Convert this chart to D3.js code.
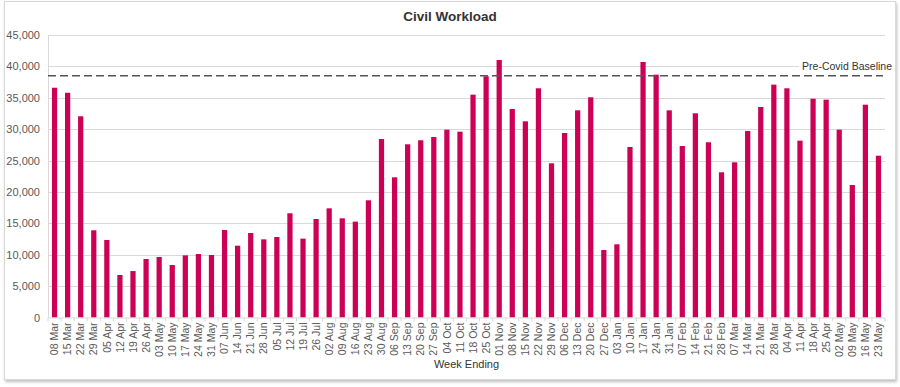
<!DOCTYPE html>
<html>
<head>
<meta charset="utf-8">
<script src="https://cdn.jsdelivr.net/npm/d3@7"></script>
<style>
  body { margin: 0; background: #fff; font-family: "Liberation Sans", Arial, sans-serif; }
  #chart { width: 900px; height: 387px; }
</style>
</head>
<body>
<div id="chart"></div>
<script>
// weekly data
const weeks = ['08 Mar','15 Mar','22 Mar','29 Mar','05 Apr','12 Apr','19 Apr','26 Apr','03 May','10 May',
  '17 May','24 May','31 May','07 Jun','14 Jun','21 Jun','28 Jun','05 Jul','12 Jul','19 Jul',
  '26 Jul','02 Aug','09 Aug','16 Aug','23 Aug','30 Aug','06 Sep','13 Sep','20 Sep','27 Sep',
  '04 Oct','11 Oct','18 Oct','25 Oct','01 Nov','08 Nov','15 Nov','22 Nov','29 Nov','06 Dec',
  '13 Dec','20 Dec','27 Dec','03 Jan','10 Jan','17 Jan','24 Jan','31 Jan','07 Feb','14 Feb',
  '21 Feb','28 Feb','07 Mar','14 Mar','21 Mar','28 Mar','04 Apr','11 Apr','18 Apr','25 Apr',
  '02 May','09 May','16 May','23 May'];

const workload = [36600,35800,32050,13890,12350,6770,7400,9320,9640,8360,
  9900,10115,9960,13940,11440,13460,12450,12820,16600,12560,
  15690,17390,15800,15270,18670,28430,22330,27590,28230,28750,
  29920,29600,35500,38420,41020,33210,31250,36510,24560,29390,
  33000,35080,10750,11660,27160,40700,38680,33000,27320,32530,
  27910,23130,24720,29710,33530,37090,36510,28170,34850,34700,
  29920,21110,33900,25770];

const yTicks = [0,5000,10000,15000,20000,25000,30000,35000,40000,45000];
const baseline = 38500;
const baselineLabel = 'Pre-Covid Baseline';

const W = 900, H = 387;
const margin = { top: 35, right: 15, bottom: 70, left: 48 };

const svg = d3.select('#chart').append('svg')
  .attr('width', W).attr('height', H);

// card frame with soft shadow
const defs = svg.append('defs');
const f = defs.append('filter').attr('id', 'shadow').attr('x', '-5%').attr('y', '-5%').attr('width', '110%').attr('height', '115%');
f.append('feDropShadow').attr('dx', 1).attr('dy', 2).attr('stdDeviation', 1.5).attr('flood-color', '#000').attr('flood-opacity', 0.25);

svg.append('rect')
  .attr('x', 4.5).attr('y', 1.5).attr('width', 891).attr('height', 378)
  .attr('fill', '#fff').attr('stroke', '#d9d9d9').attr('stroke-width', 1)
  .attr('filter', 'url(#shadow)');

const x = d3.scaleBand()
  .domain(weeks)
  .range([margin.left, W - margin.right])
  .paddingInner(0.6).paddingOuter(0.3);

const y = d3.scaleLinear()
  .domain([0, 45000])
  .range([317.5, 35]);

// gridlines
svg.append('g')
  .selectAll('line')
  .data(yTicks.filter(d => d > 0))
  .enter().append('line')
  .attr('x1', margin.left).attr('x2', W - margin.right)
  .attr('y1', d => Math.round(y(d)) + 0.5).attr('y2', d => Math.round(y(d)) + 0.5)
  .attr('stroke', '#d9d9d9').attr('stroke-width', 1);

// y axis
const yAxis = svg.append('g')
  .attr('transform', `translate(${margin.left},0)`)
  .call(d3.axisLeft(y).tickValues(yTicks).tickFormat(d3.format(',')).tickSize(0).tickPadding(8));
yAxis.select('.domain').attr('stroke', '#d9d9d9');
yAxis.selectAll('text').attr('fill', '#595959').style('font-size', '11px')
  .style('font-family', '"Liberation Sans", Arial, sans-serif');

// bars
svg.append('g')
  .selectAll('rect')
  .data(weeks)
  .enter().append('rect')
  .attr('x', d => x(d))
  .attr('width', x.bandwidth())
  .attr('y', (d, i) => y(workload[i]))
  .attr('height', (d, i) => y(0) - y(workload[i]))
  .attr('fill', '#cc0055');

// x axis
const xAxis = svg.append('g')
  .attr('transform', `translate(0,${y(0)})`)
  .call(d3.axisBottom(x).tickSize(0).tickPadding(5));
xAxis.select('.domain').attr('stroke', '#d9d9d9');
xAxis.selectAll('text')
  .attr('fill', '#595959')
  .style('font-size', '10.5px')
  .style('font-family', '"Liberation Sans", Arial, sans-serif')
  .attr('transform', 'rotate(-90)')
  .attr('text-anchor', 'end')
  .attr('x', -5).attr('y', 0).attr('dy', '0.35em');

// small ticks between categories
const step = x.step();
svg.append('g')
  .selectAll('line')
  .data(d3.range(weeks.length + 1))
  .enter().append('line')
  .attr('x1', i => margin.left + i * step).attr('x2', i => margin.left + i * step)
  .attr('y1', y(0)).attr('y2', y(0) + 4)
  .attr('stroke', '#d9d9d9');

// baseline
svg.append('line')
  .attr('x1', margin.left).attr('x2', W - margin.right - 2)
  .attr('y1', y(baseline)).attr('y2', y(baseline))
  .attr('stroke', '#555').attr('stroke-width', 1.6)
  .attr('stroke-dasharray', '8,4');

const lblBg = svg.append('rect').attr('fill', '#fff');
const lbl = svg.append('text')
  .attr('x', 892).attr('y', y(40000) + 4)
  .attr('text-anchor', 'end')
  .attr('fill', '#333')
  .style('font-size', '10.5px')
  .text(baselineLabel);
const bb = lbl.node().getBBox();
lblBg.attr('x', bb.x - 3).attr('y', bb.y).attr('width', bb.width + 3).attr('height', bb.height);

// title
svg.append('text')
  .attr('x', 450).attr('y', 21)
  .attr('text-anchor', 'middle')
  .attr('fill', '#333')
  .style('font-size', '13.5px').style('font-weight', 'bold')
  .text('Civil Workload');

// x axis title
svg.append('text')
  .attr('x', (margin.left + W - margin.right) / 2).attr('y', 368)
  .attr('text-anchor', 'middle')
  .attr('fill', '#333')
  .style('font-size', '11px')
  .text('Week Ending');
</script>
</body>
</html>
